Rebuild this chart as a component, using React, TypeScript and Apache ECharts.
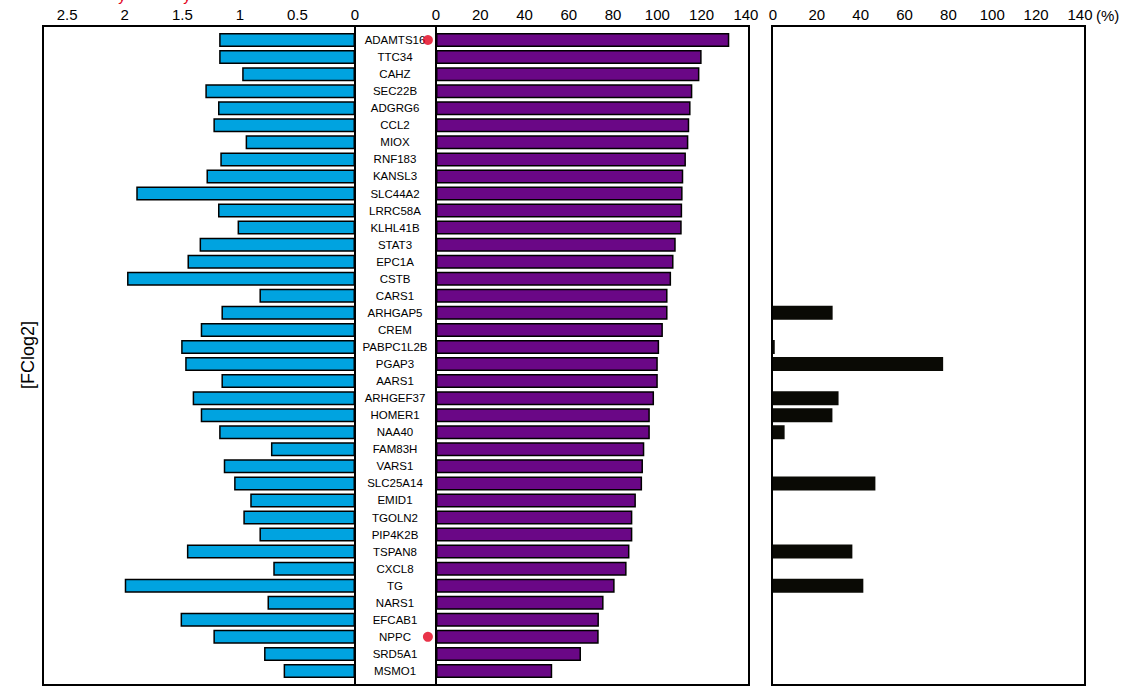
import React, { useEffect, useRef } from "react";
import * as echarts from "echarts";

const genes = [
  "ADAMTS16", "TTC34", "CAHZ", "SEC22B", "ADGRG6", "CCL2", "MIOX", "RNF183", "KANSL3", "SLC44A2",
  "LRRC58A", "KLHL41B", "STAT3", "EPC1A", "CSTB", "CARS1", "ARHGAP5", "CREM", "PABPC1L2B", "PGAP3",
  "AARS1", "ARHGEF37", "HOMER1", "NAA40", "FAM83H", "VARS1", "SLC25A14", "EMID1", "TGOLN2", "PIP4K2B",
  "TSPAN8", "CXCL8", "TG", "NARS1", "EFCAB1", "NPPC", "SRD5A1", "MSMO1",
];

const fcLog2 = [
  1.18, 1.18, 0.98, 1.30, 1.19, 1.23, 0.95, 1.17, 1.29, 1.90,
  1.19, 1.02, 1.35, 1.455, 1.98, 0.83, 1.16, 1.34, 1.51, 1.475,
  1.16, 1.41, 1.34, 1.18, 0.73, 1.14, 1.05, 0.91, 0.97, 0.83,
  1.46, 0.71, 2.0, 0.76, 1.515, 1.23, 0.79, 0.62,
];

const pctMain = [
  132.5, 120, 119, 115.8, 115, 114.4, 114, 112.9, 111.7, 111.4,
  111.2, 111, 108.3, 107.3, 106.2, 104.6, 104.6, 102.5, 100.8, 100.2,
  100.2, 98.5, 96.6, 96.6, 94.1, 93.5, 93.1, 90.3, 88.7, 88.7,
  87.4, 86.1, 80.7, 75.7, 73.6, 73.5, 65.5, 52.5,
];

const pctSecond = [
  null, null, null, null, null, null, null, null, null, null,
  null, null, null, null, null, null, 27.2, null, 0.8, 77.6,
  null, 29.9, 27.1, 5.3, null, null, 46.7, null, null, null,
  36.2, null, 41.2, null, null, null, null, null,
];

const markedGenes = ["ADAMTS16", "NPPC"];

const leftTicks = { min: 0, max: 2.71, interval: 0.5 };
const rightTicks = { min: 0, max: 141.4, interval: 20 };
const thirdTicks = { min: 0, max: 142.3, interval: 20 };

const FONT = "Liberation Sans, Arial, Helvetica, sans-serif";

export default function App() {
  const ref = useRef<HTMLDivElement>(null);
  useEffect(() => {
    if (!ref.current) return;
    const chart = echarts.init(ref.current, undefined, { renderer: "svg" });
    const top = 31.5;
    const height = 648;
    const boxTop = 26;
    const boxBottom = 685;
    const axisLabel = { fontSize: 15, color: "#000", fontFamily: FONT, margin: 10 };
    const hiddenY = (gi: number) => ({
      type: "category",
      gridIndex: gi,
      data: genes,
      inverse: true,
      show: false,
    });
    const box = (x1: number, x2: number) => ({
      type: "rect",
      shape: { x: x1, y: boxTop, width: x2 - x1, height: boxBottom - boxTop },
      style: { fill: "none", stroke: "#000", lineWidth: 2 },
      z: 10,
    });
    chart.setOption({
      animation: false,
      grid: [
        { left: 43, width: 312, top, height },
        { left: 436, width: 313, top, height },
        { left: 773, width: 312, top, height },
        { left: 355, width: 81, top, height },
      ],
      xAxis: [
        {
          type: "value", gridIndex: 0, position: "top", inverse: true,
          ...leftTicks,
          axisLine: { show: false }, axisTick: { show: false }, splitLine: { show: false },
          axisLabel: { ...axisLabel, showMaxLabel: false },
        },
        {
          type: "value", gridIndex: 1, position: "top",
          ...rightTicks,
          axisLine: { show: false }, axisTick: { show: false }, splitLine: { show: false },
          axisLabel: { ...axisLabel, showMaxLabel: false },
        },
        {
          type: "value", gridIndex: 2, position: "top",
          ...thirdTicks,
          axisLine: { show: false }, axisTick: { show: false }, splitLine: { show: false },
          axisLabel: { ...axisLabel, showMaxLabel: false },
        },
        { type: "value", gridIndex: 3, min: 0, max: 1, show: false },
      ],
      yAxis: [
        hiddenY(0),
        {
          type: "category",
          gridIndex: 1,
          data: genes,
          inverse: true,
          axisLine: { show: false },
          axisTick: { show: false },
          axisLabel: {
            fontSize: 11.5, color: "#000", fontFamily: FONT,
            align: "center", margin: 41,
          },
        },
        hiddenY(2),
        hiddenY(3),
      ],
      series: [
        {
          type: "bar", xAxisIndex: 0, yAxisIndex: 0, data: fcLog2,
          barWidth: 14,
          itemStyle: { color: "#00A3E0", borderColor: "#000", borderWidth: 1.5 },
        },
        {
          type: "bar", xAxisIndex: 1, yAxisIndex: 1, data: pctMain,
          barWidth: 14,
          itemStyle: { color: "#6A0786", borderColor: "#000", borderWidth: 1.5 },
        },
        {
          type: "bar", xAxisIndex: 2, yAxisIndex: 2, data: pctSecond,
          barWidth: 14,
          itemStyle: { color: "#0A0A05" },
        },
        {
          type: "scatter", xAxisIndex: 3, yAxisIndex: 3,
          data: markedGenes.map((g) => [0.9, g]),
          symbolSize: 10,
          itemStyle: { color: "#E3001B" },
          z: 20,
        },
      ],
      graphic: [
        box(43, 355),
        box(355, 436),
        box(436, 749),
        box(772, 1085),
        {
          type: "text", x: 28, y: 355, rotation: Math.PI / 2,
          style: { text: "[FClog2]", fontSize: 18, fontFamily: FONT, fill: "#000", align: "center", verticalAlign: "middle" },
        },
        {
          type: "text", x: 1096, y: 15,
          style: { text: "(%)", fontSize: 15, fontFamily: FONT, fill: "#000", align: "left", verticalAlign: "middle" },
        },
        {
          type: "text", x: 122, y: 3,
          style: { text: "y", fontSize: 15, fontFamily: FONT, fill: "#E3001B", align: "center", verticalAlign: "bottom" },
        },
        {
          type: "text", x: 187, y: 3,
          style: { text: "y", fontSize: 15, fontFamily: FONT, fill: "#E3001B", align: "center", verticalAlign: "bottom" },
        },
      ],
    });
    return () => chart.dispose();
  }, []);
  return (
    <div
      ref={ref}
      style={{ position: "absolute", left: 0, top: 0, width: 1128, height: 686, background: "#fff" }}
    />
  );
}
